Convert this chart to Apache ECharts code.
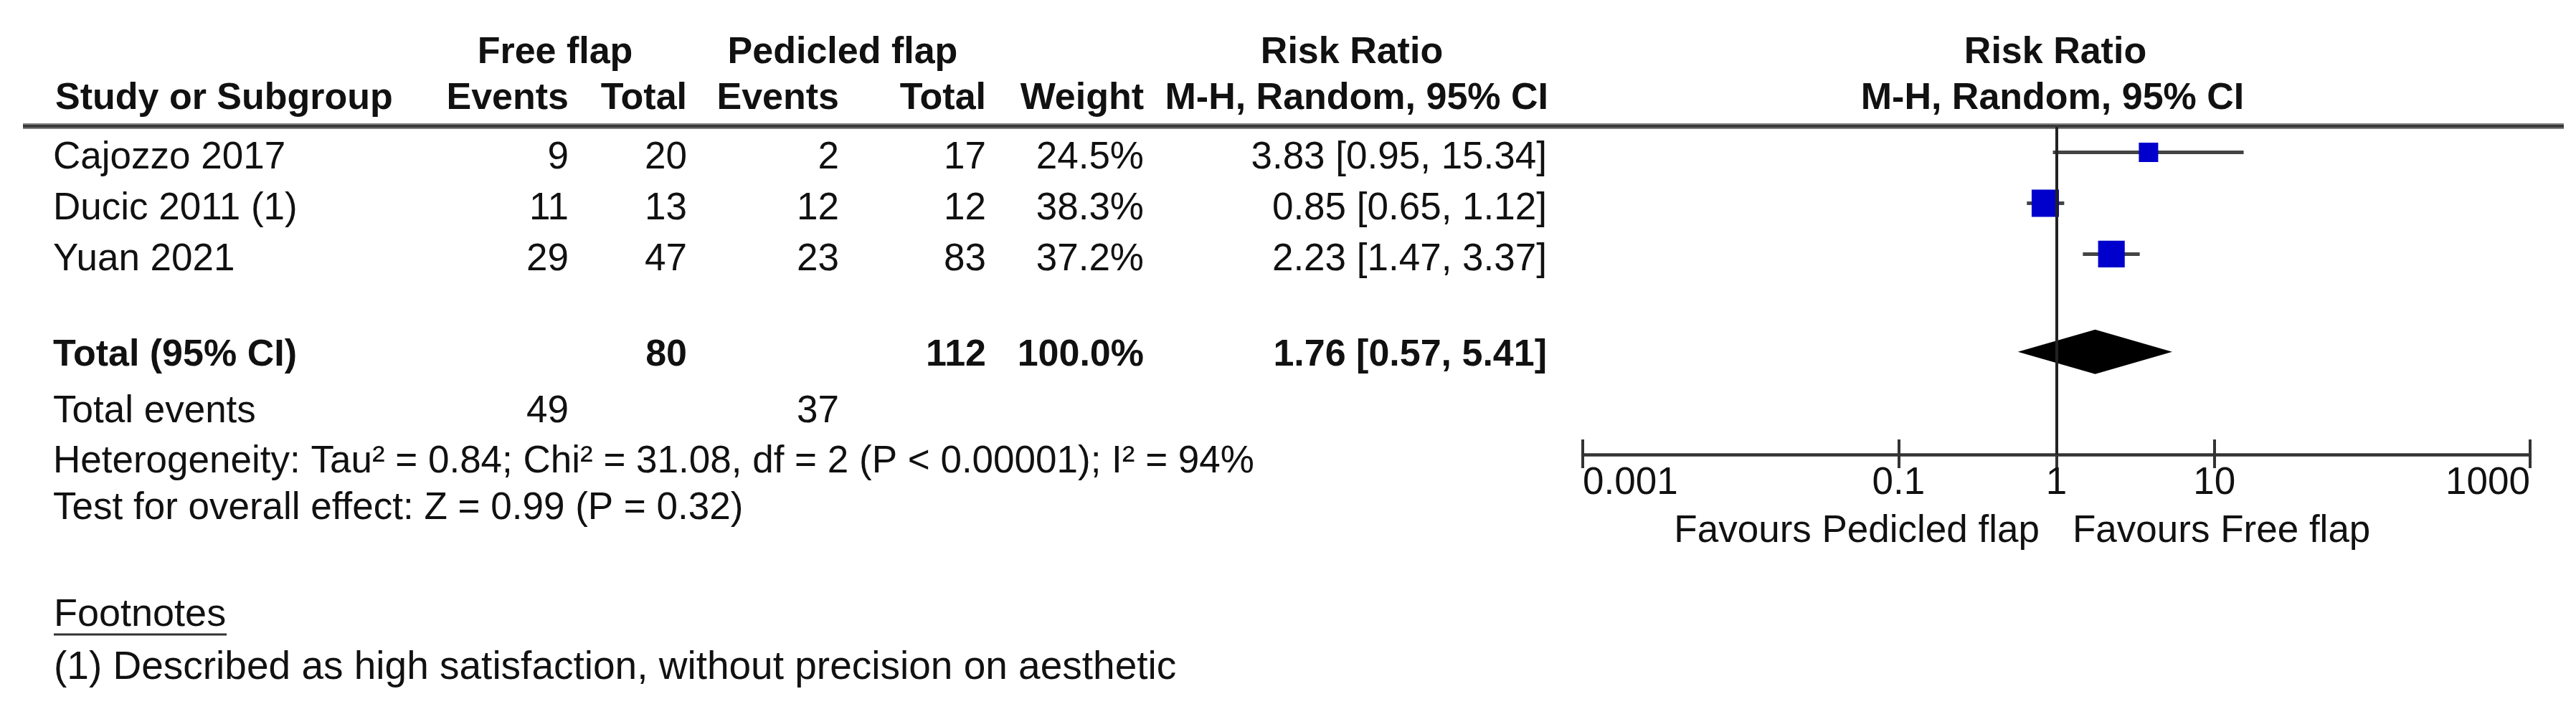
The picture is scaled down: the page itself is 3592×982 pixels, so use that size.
<!DOCTYPE html>
<html><head><meta charset="utf-8">
<script src="https://cdn.jsdelivr.net/npm/echarts@6/dist/echarts.min.js"></script>
<style>html,body{margin:0;padding:0;background:#fff}#c{width:3592px;height:982px}</style>
</head><body><div id="c"></div>
<script>
// ---------- data ----------
const studies = ['Cajozzo 2017', 'Ducic 2011 (1)', 'Yuan 2021'];
const freeEvents = [9, 11, 29];
const freeTotal = [20, 13, 47];
const pedEvents = [2, 12, 23];
const pedTotal = [17, 12, 83];
const weights = [24.5, 38.3, 37.2];
const rr = [3.83, 0.85, 2.23];
const rrLow = [0.95, 0.65, 1.47];
const rrHigh = [15.34, 1.12, 3.37];
const totals = [80, 112];            // free total, pedicled total
const totalWeight = [100.0];
const pooled = [1.76, 0.57, 5.41];   // estimate, lower, upper
const totalEvents = [49, 37];        // free, pedicled
const heterogeneity = [0.84, 31.08, 2, 94]; // Tau², Chi², df, I²
const overall = [0.99, 0.32];        // Z, P
const tickValues = [0.001, 0.1, 1, 10, 1000];
const tickLabels = ['0.001', '0.1', '1', '10', '1000'];

// ---------- layout ----------
const FONT = '"Liberation Sans", Arial, Helvetica, sans-serif';
const COL = {name: 74, e1: 793, t1: 958, e2: 1170, t2: 1375, w: 1595, ci: 2157};
const ROWY = [220, 291, 362];
const fmt2 = v => v.toFixed(2);
const ciStr = (m, l, u) => `${fmt2(m)} [${fmt2(l)}, ${fmt2(u)}]`;

function txt(x, y, s, align, bold, sizeOverride) {
  const size = sizeOverride || (bold ? 52 : 53);
  return {
    type: 'text', x: x, y: y, silent: true,
    style: {
      text: s, fill: '#111', font: (bold ? 'bold ' : '') + size + 'px ' + FONT,
      fontSize: size, fontFamily: FONT, fontWeight: bold ? 'bold' : 'normal',
      textAlign: align, textVerticalAlign: 'middle', align: align, verticalAlign: 'middle'
    }
  };
}

const g = [];
// top headers
const H1 = 74;
g.push(txt(774, H1, 'Free flap', 'center', true));
g.push(txt(1175, H1, 'Pedicled flap', 'center', true));
g.push(txt(1885, H1, 'Risk Ratio', 'center', true));
g.push(txt(2866, H1, 'Risk Ratio', 'center', true));
// column headers
const HY = 138;
g.push(txt(77, HY, 'Study or Subgroup', 'left', true));
g.push(txt(COL.e1, HY, 'Events', 'right', true));
g.push(txt(COL.t1, HY, 'Total', 'right', true));
g.push(txt(COL.e2, HY, 'Events', 'right', true));
g.push(txt(COL.t2, HY, 'Total', 'right', true));
g.push(txt(COL.w, HY, 'Weight', 'right', true));
g.push(txt(COL.ci + 2, HY, 'M-H, Random, 95% CI', 'right', true));
g.push(txt(2862, HY, 'M-H, Random, 95% CI', 'center', true));
// header rule
g.push({type: 'line', silent: true, shape: {x1: 32, y1: 176, x2: 3575, y2: 176}, style: {stroke: '#808080', lineWidth: 8}});
g.push({type: 'line', silent: true, shape: {x1: 32, y1: 176, x2: 3575, y2: 176}, style: {stroke: '#3a3a3a', lineWidth: 4}});
// study rows
studies.forEach((s, i) => {
  const y = ROWY[i];
  g.push(txt(COL.name, y, s, 'left', false));
  g.push(txt(COL.e1, y, String(freeEvents[i]), 'right', false));
  g.push(txt(COL.t1, y, String(freeTotal[i]), 'right', false));
  g.push(txt(COL.e2, y, String(pedEvents[i]), 'right', false));
  g.push(txt(COL.t2, y, String(pedTotal[i]), 'right', false));
  g.push(txt(COL.w, y, weights[i].toFixed(1) + '%', 'right', false));
  g.push(txt(COL.ci, y, ciStr(rr[i], rrLow[i], rrHigh[i]), 'right', false));
});
// total row
const TY = 496;
g.push(txt(COL.name, TY, 'Total (95% CI)', 'left', true));
g.push(txt(COL.t1, TY, String(totals[0]), 'right', true));
g.push(txt(COL.t2, TY, String(totals[1]), 'right', true));
g.push(txt(COL.w, TY, totalWeight[0].toFixed(1) + '%', 'right', true));
g.push(txt(COL.ci, TY, ciStr(pooled[0], pooled[1], pooled[2]), 'right', true));
// total events
g.push(txt(COL.name, 574, 'Total events', 'left', false));
g.push(txt(COL.e1, 574, String(totalEvents[0]), 'right', false));
g.push(txt(COL.e2, 574, String(totalEvents[1]), 'right', false));
g.push(txt(COL.name, 644, `Heterogeneity: Tau² = ${fmt2(heterogeneity[0])}; Chi² = ${fmt2(heterogeneity[1])}, df = ${heterogeneity[2]} (P < 0.00001); I² = ${heterogeneity[3]}%`, 'left', false));
g.push(txt(COL.name, 709, `Test for overall effect: Z = ${fmt2(overall[0])} (P = ${fmt2(overall[1])})`, 'left', false));
// footnotes
g.push(txt(75, 858, 'Footnotes', 'left', false, 54));
g.push({type: 'line', silent: true, shape: {x1: 75, y1: 885, x2: 316, y2: 885}, style: {stroke: '#333', lineWidth: 3}});
g.push(txt(75, 932, '(1) Described as high satisfaction, without precision on aesthetic', 'left', false, 55));
// favours labels
g.push(txt(2844, 741, 'Favours Pedicled flap', 'right', false));
g.push(txt(2890, 741, 'Favours Free flap', 'left', false));

function labelFor(v) {
  let best = 0, bd = Infinity;
  tickValues.forEach((t, i) => { const d = Math.abs(Math.log10(t) - Math.log10(v)); if (d < bd) { bd = d; best = i; } });
  return tickLabels[best];
}

const studyData = studies.map((s, i) => [rrLow[i], rrHigh[i], rr[i], i, weights[i]]);
const pooledData = [[pooled[1], pooled[2], pooled[0], 3.92]];

const chart = echarts.init(document.getElementById('c'), null, {renderer: 'canvas'});
chart.setOption({
  animation: false,
  backgroundColor: '#fff',
  grid: {left: 2207, right: 64, top: 177, bottom: 348, containLabel: false},
  xAxis: [{
    type: 'log', logBase: 10, min: 0.001, max: 1000, position: 'bottom',
    axisLine: {show: true, onZero: false, lineStyle: {color: '#333', width: 4.5}},
    axisTick: {show: true, inside: false, length: 19, customValues: tickValues, lineStyle: {color: '#333', width: 4}},
    axisLabel: {show: true, customValues: tickValues, margin: 14, formatter: v => labelFor(v),
      color: '#111', fontSize: 53, fontFamily: FONT, showMinLabel: true, showMaxLabel: true,
      alignMinLabel: 'left', alignMaxLabel: 'right'},
    splitLine: {show: false}, minorTick: {show: false}
  }, {
    type: 'log', logBase: 10, min: 0.001, max: 1000, position: 'bottom',
    axisLine: {show: false, onZero: false},
    axisTick: {show: true, inside: true, length: 21, customValues: tickValues, lineStyle: {color: '#333', width: 4}},
    axisLabel: {show: false}, splitLine: {show: false}
  }],
  yAxis: {type: 'value', inverse: true, min: -0.5, max: 5.94, show: false},
  series: [{
    type: 'custom', name: 'studies', xAxisIndex: 0, clip: false,
    data: studyData,
    encode: {x: [0, 1, 2], y: 3},
    renderItem: (params, api) => {
      const y = api.value(3);
      const p1 = api.coord([api.value(0), y]);
      const p2 = api.coord([api.value(1), y]);
      const pc = api.coord([api.value(2), y]);
      const s = 7.4 + 0.8 * api.value(4);
      return {type: 'group', children: [
        {type: 'line', shape: {x1: p1[0], y1: p1[1], x2: p2[0], y2: p2[1]}, style: {stroke: '#444', lineWidth: 5}},
        {type: 'rect', shape: {x: pc[0] - s / 2, y: pc[1] - s / 2, width: s, height: s}, style: {fill: '#0000CC'}}
      ]};
    },
    markLine: {silent: true, symbol: 'none', label: {show: false},
      lineStyle: {color: '#222', width: 4, type: 'solid'}, data: [{xAxis: 1}]}
  }, {
    type: 'custom', name: 'pooled', xAxisIndex: 0, clip: false,
    data: pooledData,
    encode: {x: [0, 1, 2], y: 3},
    renderItem: (params, api) => {
      const y = api.value(3);
      const pl = api.coord([api.value(0), y]);
      const pu = api.coord([api.value(1), y]);
      const pc = api.coord([api.value(2), y]);
      const h = 31;
      return {type: 'polygon', shape: {points: [[pl[0], pl[1]], [pc[0], pc[1] - h], [pu[0], pu[1]], [pc[0], pc[1] + h]]},
        style: {fill: '#000'}};
    }
  }],
  graphic: {elements: g}
});
</script>
</body></html>
